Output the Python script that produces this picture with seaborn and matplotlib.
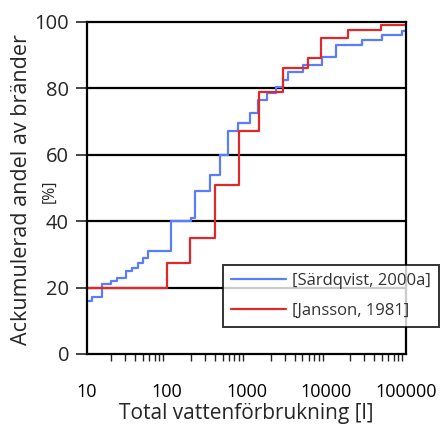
import pandas as pd
import matplotlib
matplotlib.use("Agg")
import matplotlib.pyplot as plt
import seaborn as sns

# data (cumulative share of fires vs total water use)
sardqvist_x = [10, 11.5, 15.5, 20, 24, 31, 37, 43, 50, 58, 114, 200, 225, 345, 460, 580,
               770, 1090, 1380, 1800, 2350, 2820, 3260, 5030, 8910, 13200, 28200,
               49900, 88900, 100000]
sardqvist_y = [15.8, 17, 21, 22, 23, 25, 26, 27.5, 29, 31, 40, 41, 49, 54, 60, 67,
               69.5, 72.5, 76.5, 78.5, 80.5, 82.5, 85, 87, 89.5, 93, 94.5,
               96, 97.3, 97.5]

jansson_x = [10, 100, 194, 406, 800, 1450, 2900, 5960, 8560, 18800, 48000, 100000]
jansson_y = [20, 27.5, 35, 51, 67, 79, 86, 89, 95, 97.6, 98.9, 98.9]

series_names = ["[Särdqvist, 2000a]", "[Jansson, 1981]"]
series_colors = ["#5a7cff", "#e02828"]

df = pd.concat([
    pd.DataFrame({"x": sardqvist_x, "y": sardqvist_y, "serie": series_names[0]}),
    pd.DataFrame({"x": jansson_x, "y": jansson_y, "serie": series_names[1]}),
])

sns.set_style("white")
plt.rcParams["font.family"] = ["Open Sans", "DejaVu Sans"]

fig = plt.figure(figsize=(4.4, 4.28), dpi=100)
ax = fig.add_axes([0.198, 0.173, 0.725, 0.776])

sns.lineplot(data=df, x="x", y="y", hue="serie", palette=series_colors,
             estimator=None, drawstyle="steps-post", linewidth=1.6, ax=ax)

ax.set_xscale("log")
ax.set_xlim(10, 100000)
ax.set_ylim(0, 100)
ax.set_xticks([10, 100, 1000, 10000, 100000])
ax.set_xticklabels(["10", "100", "1000", "10000", "100000"])
ax.set_yticks([0, 20, 40, 60, 80, 100])

for yv in [20, 40, 60, 80]:
    ax.axhline(yv, color="black", linewidth=1.6, zorder=1)

for s in ax.spines.values():
    s.set_color("black")
    s.set_linewidth(1.6)

ax.tick_params(axis="x", which="major", direction="out", length=7, width=1.2,
               pad=14, labelsize=13, colors="black")
ax.tick_params(axis="x", which="minor", direction="out", length=5, width=1.0,
               bottom=True)
ax.tick_params(axis="y", which="major", direction="out", length=8, width=1.2,
               pad=5, labelsize=14.5, left=True)

ax.set_xlabel("Total vattenförbrukning [l]", fontsize=15, labelpad=1)
ax.set_ylabel("Ackumulerad andel av bränder", fontsize=15.5)
ax.yaxis.set_label_coords(-0.172, 0.495)
# unit line of the y label sits between the tick labels
ax.text(-0.118, 0.49, "[%]", transform=ax.transAxes, rotation=90,
        ha="center", va="center", fontsize=11.5)

leg = ax.legend(loc="upper left", bbox_to_anchor=(0.426, 0.268), frameon=True,
                fancybox=False, edgecolor="black", fontsize=12, handlelength=3.3,
                handletextpad=0.35, borderpad=0.5, labelspacing=0.8,
                borderaxespad=0)
leg.get_frame().set_linewidth(1.4)
leg.set_clip_on(False)
for t in leg.get_texts():
    t.set_color("#333333")

fig.savefig("out.png", dpi=100)
